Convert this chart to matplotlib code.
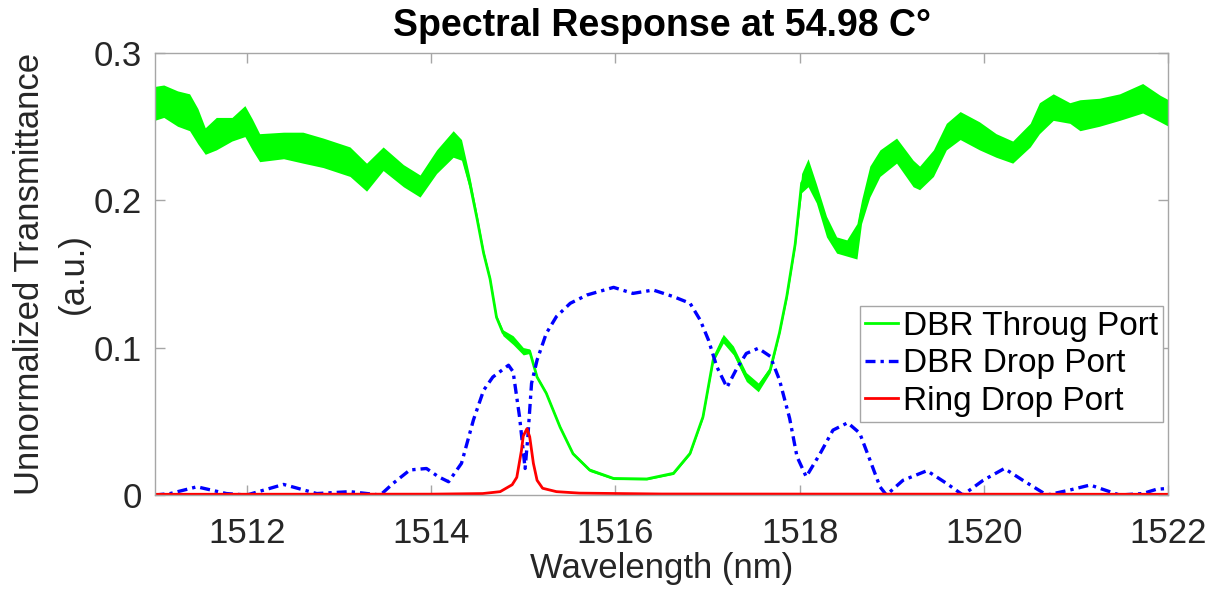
import numpy as np
import matplotlib
matplotlib.use('Agg')
from matplotlib import pyplot as plt

plt.rcParams['font.family'] = ['Liberation Sans', 'DejaVu Sans']

# DBR through port: upper / lower edge of the rippled trace
green_x = [1511.0, 1511.1, 1511.25, 1511.38, 1511.47, 1511.55, 1511.67, 1511.84,
           1511.98, 1512.06, 1512.14, 1512.40, 1512.61, 1512.83, 1513.12, 1513.30,
           1513.48, 1513.70, 1513.88, 1514.06, 1514.24, 1514.33, 1514.42, 1514.50,
           1514.57, 1514.64, 1514.71, 1514.78, 1514.89, 1515.00, 1515.07, 1515.15,
           1515.25, 1515.40, 1515.54, 1515.72, 1515.98, 1516.34, 1516.63, 1516.81,
           1516.95, 1517.06, 1517.17, 1517.28, 1517.42, 1517.55, 1517.68, 1517.78,
           1517.86, 1517.95, 1518.02, 1518.09, 1518.18, 1518.29, 1518.40, 1518.51,
           1518.62, 1518.67, 1518.76, 1518.87, 1519.05, 1519.23, 1519.30, 1519.45,
           1519.59, 1519.74, 1519.95, 1520.13, 1520.31, 1520.50, 1520.60, 1520.75,
           1520.93, 1521.04, 1521.25, 1521.47, 1521.72, 1521.91, 1522.0]
green_hi = [0.277, 0.278, 0.274, 0.272, 0.262, 0.249, 0.256, 0.256,
            0.264, 0.255, 0.245, 0.246, 0.246, 0.242, 0.236, 0.225,
            0.236, 0.224, 0.217, 0.234, 0.247, 0.241, 0.216, 0.190,
            0.166, 0.148, 0.122, 0.112, 0.108, 0.100, 0.099, 0.081,
            0.070, 0.047, 0.029, 0.018, 0.012, 0.0115, 0.0155, 0.029,
            0.054, 0.093, 0.109, 0.101, 0.083, 0.076, 0.087, 0.111,
            0.137, 0.172, 0.218, 0.228, 0.211, 0.189, 0.175, 0.173,
            0.184, 0.200, 0.223, 0.234, 0.242, 0.227, 0.223, 0.234,
            0.252, 0.260, 0.253, 0.245, 0.240, 0.252, 0.266, 0.272,
            0.266, 0.268, 0.269, 0.272, 0.279, 0.271, 0.268]
green_lo = [0.254, 0.256, 0.250, 0.247, 0.238, 0.231, 0.234, 0.240,
            0.243, 0.234, 0.226, 0.228, 0.225, 0.222, 0.216, 0.206,
            0.220, 0.209, 0.202, 0.218, 0.229, 0.227, 0.207, 0.184,
            0.162, 0.145, 0.119, 0.108, 0.102, 0.095, 0.096, 0.079,
            0.068, 0.045, 0.027, 0.016, 0.0105, 0.0103, 0.014, 0.0275,
            0.052, 0.090, 0.103, 0.095, 0.077, 0.070, 0.083, 0.109,
            0.133, 0.168, 0.205, 0.209, 0.198, 0.175, 0.164, 0.162,
            0.160, 0.184, 0.202, 0.216, 0.225, 0.209, 0.207, 0.216,
            0.234, 0.241, 0.234, 0.229, 0.225, 0.236, 0.245, 0.254,
            0.252, 0.247, 0.250, 0.254, 0.259, 0.253, 0.250]

# DBR drop port
blue_x = [1511.0, 1511.17, 1511.46, 1511.78, 1512.0, 1512.40, 1512.76, 1513.12,
          1513.45, 1513.59, 1513.77, 1513.95, 1514.08, 1514.19, 1514.33, 1514.46,
          1514.57, 1514.67, 1514.84, 1514.89, 1514.96, 1515.02, 1515.05, 1515.09,
          1515.15, 1515.25, 1515.36, 1515.51, 1515.69, 1515.98, 1516.19, 1516.41,
          1516.63, 1516.81, 1516.92, 1517.01, 1517.10, 1517.21, 1517.31, 1517.42,
          1517.55, 1517.68, 1517.78, 1517.89, 1517.97, 1518.07, 1518.22, 1518.36,
          1518.52, 1518.65, 1518.76, 1518.87, 1518.94, 1519.12, 1519.38, 1519.59,
          1519.77, 1519.99, 1520.22, 1520.42, 1520.68, 1520.93, 1521.15, 1521.47,
          1521.72, 1521.87, 1522.0]
blue_y = [0.0, 0.001, 0.0056, 0.001, 0.0, 0.0072, 0.001, 0.0023,
          0.0, 0.008, 0.017, 0.018, 0.0124, 0.009, 0.0215, 0.051,
          0.071, 0.080, 0.088, 0.0836, 0.053, 0.018, 0.0395, 0.0757,
          0.0915, 0.1096, 0.121, 0.130, 0.1356, 0.1408, 0.1367, 0.139,
          0.1345, 0.130, 0.1186, 0.105, 0.087, 0.073, 0.085, 0.096,
          0.0995, 0.094, 0.078, 0.052, 0.026, 0.0124, 0.028, 0.044,
          0.049, 0.042, 0.024, 0.0056, 0.0, 0.010, 0.0165, 0.008,
          0.0, 0.010, 0.018, 0.010, 0.0, 0.0034, 0.0068, 0.0,
          0.001, 0.0039, 0.0045]

# ring drop port
red_x = [1511.0, 1514.0, 1514.56, 1514.75, 1514.88, 1514.93, 1514.98, 1515.0,
         1515.04, 1515.07, 1515.11, 1515.15, 1515.21, 1515.36, 1515.61, 1516.5,
         1522.0]
red_y = [0.0005, 0.0006, 0.001, 0.0023, 0.007, 0.012, 0.030, 0.040,
         0.045, 0.0395, 0.0215, 0.010, 0.0046, 0.0023, 0.0013, 0.0007,
         0.0005]

x_ticks = [1512, 1514, 1516, 1518, 1520, 1522]
y_ticks = [0, 0.1, 0.2, 0.3]
y_tick_labels = ['0', '0.1', '0.2', '0.3']
labels = ['DBR Throug Port', 'DBR Drop Port', 'Ring Drop Port']

fig = plt.figure(figsize=(12.15, 5.95), dpi=100)
ax = fig.add_axes([0.1272, 0.168, 0.8345, 0.7437])

green_mid = (np.array(green_hi) + np.array(green_lo)) / 2
ax.fill_between(green_x, green_lo, green_hi, color='#00ff00', lw=0)
ax.plot(green_x, green_mid, color='#00ff00', lw=2, label=labels[0])
ax.plot(blue_x, blue_y, color='#0000ff', lw=2.4, dashes=(3, 1.5, 1, 1.5), label=labels[1])
ax.plot(red_x, red_y, color='#ff0000', lw=2, label=labels[2])

ax.set_xlim(1511, 1522)
ax.set_ylim(0, 0.3)
ax.set_xticks(x_ticks)
ax.set_yticks(y_ticks)
ax.set_yticklabels(y_tick_labels)

# matlab-like box and inward ticks
for sp in ax.spines.values():
    sp.set_color('#a6a6a6')
    sp.set_linewidth(1)
ax.tick_params(direction='in', length=7, width=1, color='#a6a6a6',
               labelcolor='#262626', labelsize=25, top=True, right=True)
ax.tick_params(axis='x', pad=16)
ax.tick_params(axis='y', pad=9)

ax.set_xlabel('Wavelength (nm)', fontsize=25, color='#262626', labelpad=1)
ax.set_ylabel('Unnormalized Transmittance\n(a.u.)', fontsize=25, color='#262626',
              linespacing=1.4, labelpad=3)
ax.set_title('Spectral Response at 54.98 C°', fontsize=27, fontweight='bold', pad=12)

leg = ax.legend(loc='lower right', bbox_to_anchor=(0.995, 0.165), fontsize=24,
                handlelength=1.0, handletextpad=0.15, labelspacing=0.2,
                borderpad=0.15, borderaxespad=0, fancybox=False, framealpha=1)
leg.get_frame().set_edgecolor('#a6a6a6')
leg.get_frame().set_linewidth(1)

fig.savefig('out.png', dpi=100)
